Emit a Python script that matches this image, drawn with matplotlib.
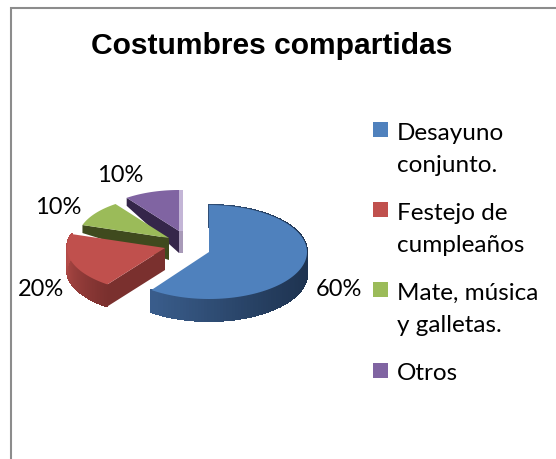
import numpy as np
import matplotlib
matplotlib.use('Agg')
import matplotlib.pyplot as plt
from matplotlib.colors import to_rgb
from matplotlib.patches import Polygon, Rectangle

title = 'Costumbres compartidas'
categories = ['Desayuno\nconjunto.', 'Festejo de\ncumpleaños', 'Mate, música\ny galletas.', 'Otros']
values = [60, 20, 10, 10]

colors = ['#4f81bd', '#c0504d', '#9bbb59', '#8064a2']
side_dark = ['#1e3350', '#7a302e', '#3f4a1e', '#35264a']
side_light = ['#41689b', '#bd4f4c', '#5d6e34', '#4b3a62']
# apex x, apex y, radius x, radius y, for each exploded slice
slice_pos = [(209, 252, 98, 47), (165, 248, 98, 45), (169, 238, 91, 42), (179, 231, 89, 41)]
depth = 22
label_pos = [(339, 290), (41, 290), (58, 207), (120, 175)]
legend_y = [130, 210, 290, 371]

fig = plt.figure(figsize=(5.56, 4.59), dpi=100)
ax = fig.add_axes([0, 0, 1, 1])
ax.set_xlim(0, 556)
ax.set_ylim(459, 0)
ax.axis('off')

# chart frame, open on the right and at the bottom
ax.plot([10.5, 10.5, 556], [459, 7.5, 7.5], color='#8c8c8c', lw=1.5, solid_joinstyle='miter')


def rim(t, cx, cy, rx, ry):
    return cx + rx * np.sin(t), cy - ry * np.cos(t)


def mix(a, b, f):
    a, b = np.array(to_rgb(a)), np.array(to_rgb(b))
    return tuple(a + (b - a) * f)


edges = np.cumsum([0] + values) / sum(values) * 2 * np.pi

for i in [3, 2, 1, 0]:
    cx, cy, rx, ry = slice_pos[i]
    t0, t1 = edges[i], edges[i + 1]
    ts = np.linspace(t0, t1, 120)
    xs, ys = rim(ts, cx, cy, rx, ry)

    if i == 3:
        # thin light face on the right of the slice
        ax.add_patch(Polygon([(cx, cy - ry), (cx + 4, cy - ry), (cx + 4, cy + depth), (cx, cy + depth)],
                             color='#c3b5d6', lw=0))
        ax.add_patch(Polygon([(cx, cy), (cx + 4, cy), (cx + 4, cy + depth), (cx, cy + depth)],
                             color='#a89ab8', lw=0))
    if i in (2, 3):
        # cut face gets thinner toward the outer edge
        ax.add_patch(Polygon([(cx, cy), (xs[0], ys[0]), (xs[0], ys[0] + 8), (cx, cy + depth)],
                             color=side_dark[i], lw=0))
    if i == 1:
        ax.add_patch(Polygon([(cx, cy), (xs[0], ys[0]), (xs[0], ys[0] + depth), (cx, cy + depth)],
                             color=side_dark[i], lw=0))
    if i in (0, 1):
        for k in range(len(ts) - 1):
            f = (1 - np.sin(ts[k])) / 2 if i == 0 else (ts[k] - t0) / (t1 - t0)
            col = mix(side_dark[i], side_light[i], f)
            ax.add_patch(Polygon([(xs[k], ys[k]), (xs[k + 1], ys[k + 1]),
                                  (xs[k + 1], ys[k + 1] + depth), (xs[k], ys[k] + depth)],
                                 facecolor=col, edgecolor=col, lw=0.8, antialiased=False))

    ax.add_patch(Polygon(np.r_[[(cx, cy)], np.c_[xs, ys]], closed=True, color=colors[i], lw=0))

for (x, y), v in zip(label_pos, values):
    ax.text(x, y, f'{v}%', fontsize=17, family='Lato', ha='center', va='center', color='black')

ax.text(272, 46, title, fontsize=21.6, family='Liberation Sans', fontweight='bold', ha='center', va='center')

for cat, col, y in zip(categories, colors, legend_y):
    ax.add_patch(Rectangle((373, y - 8), 15, 15, color=col, lw=0))
    for n, line in enumerate(cat.split('\n')):
        ax.text(397, y + 3 + n * 32.5, line, fontsize=17.5, family='Lato', ha='left', va='center', color='black')

fig.savefig('out.png', dpi=100)
